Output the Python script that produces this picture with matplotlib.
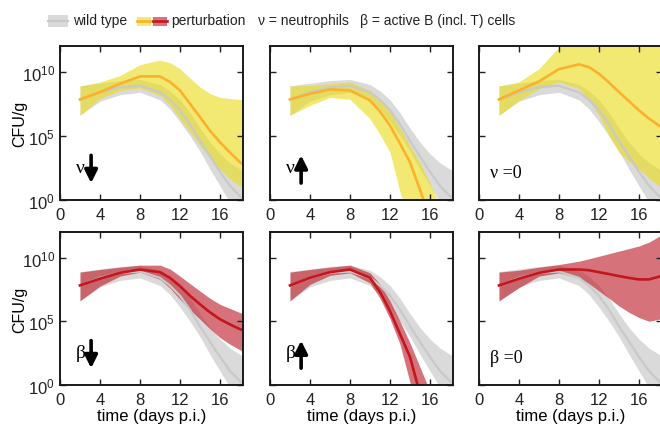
import numpy as np
import matplotlib
matplotlib.use("Agg")
from matplotlib import pyplot as plt
from matplotlib.patches import Rectangle
from matplotlib.lines import Line2D
from matplotlib.ticker import NullLocator

plt.rcParams['font.family'] = ['Liberation Sans', 'DejaVu Sans']

# days post infection, values are log10 CFU/g
days = [2, 4, 6, 8, 10, 11, 12, 13, 14, 15, 16, 17, 18, 19]

wt_med = [7.8, 8.4, 8.8, 8.9, 8.4, 7.8, 7.0, 5.9, 4.6, 3.4, 2.2, 1.1, 0.3, -0.4]
wt_hi = [8.9, 9.1, 9.3, 9.4, 9.0, 8.5, 7.8, 6.8, 5.6, 4.5, 3.6, 2.9, 2.4, 2.0]
wt_lo = [6.6, 7.7, 8.2, 8.4, 7.8, 7.1, 6.1, 5.0, 3.8, 2.4, 1.1, -0.2, -1.2, -2.0]

# neutrophils down
nu_down_med = [7.84, 8.4, 9.06, 9.63, 9.63, 9.2, 8.54, 7.5, 6.46, 5.4, 4.5, 3.7, 2.94, 2.4]
nu_down_hi = [8.88, 9.19, 9.7, 10.55, 10.9, 10.7, 10.23, 9.5, 8.8, 8.3, 8.0, 7.9, 7.84, 7.8]
nu_down_lo = [6.6, 7.9, 8.54, 8.73, 8.15, 7.4, 6.33, 5.3, 4.24, 3.3, 2.42, 1.6, 1.1, 0.7]

# neutrophils up
nu_up_med = [7.84, 8.28, 8.62, 8.54, 7.76, 6.9, 5.8, 4.4, 2.94, 0.8, -1.5, -3.0, -4.0, -5.0]
nu_up_hi = [8.88, 8.93, 9.06, 9.2, 8.54, 7.8, 6.85, 5.6, 4.24, 2.9, 1.3, -0.5, -2.0, -3.0]
nu_up_lo = [6.6, 7.37, 8.0, 7.84, 6.33, 5.1, 3.73, 0.6, -1.5, -3.0, -4.0, -5.0, -6.0, -7.0]

# no neutrophils
nu_zero_med = [7.84, 8.54, 9.24, 10.2, 10.57, 10.35, 9.84, 9.15, 8.41, 7.7, 6.98, 6.35, 5.8, 5.4]
nu_zero_hi = [8.88, 9.2, 10.23, 11.93, 13, 13, 13, 13, 13, 13, 13, 13, 13, 13]
nu_zero_lo = [6.6, 7.76, 8.67, 9.2, 8.67, 7.8, 6.6, 5.0, 3.7, 3.0, 2.4, 1.7, 1.1, 0.7]

# B cells down
b_down_med = [7.81, 8.34, 8.8, 9.06, 8.85, 8.4, 7.76, 7.0, 6.33, 5.7, 5.16, 4.75, 4.38, 4.1]
b_down_hi = [8.85, 9.06, 9.24, 9.4, 9.4, 9.1, 8.54, 7.95, 7.37, 6.8, 6.33, 6.0, 5.68, 5.4]
b_down_lo = [6.6, 7.76, 8.54, 8.85, 8.28, 7.6, 6.72, 5.9, 5.16, 4.4, 3.72, 3.2, 2.76, 2.4]

# B cells up
b_up_med = [7.81, 8.41, 8.85, 9.06, 8.41, 7.3, 5.8, 4.0, 2.2, -0.7, -3.0, -4.0, -5.0, -6.0]
b_up_hi = [8.85, 9.06, 9.24, 9.4, 8.8, 7.9, 6.6, 5.0, 3.3, 1.4, -0.5, -2.5, -4.0, -5.0]
b_up_lo = [6.6, 7.89, 8.6, 8.8, 8.0, 6.8, 5.2, 3.2, 0.2, -2.5, -4.0, -5.0, -6.0, -7.0]

# no B cells
b_zero_med = [7.81, 8.34, 8.8, 9.06, 9.06, 9.0, 8.85, 8.7, 8.54, 8.4, 8.28, 8.28, 8.5, 8.7]
b_zero_hi = [8.85, 9.0, 9.24, 9.45, 9.71, 9.9, 10.1, 10.3, 10.5, 10.7, 10.9, 11.2, 11.66, 12.0]
b_zero_lo = [6.6, 7.63, 8.54, 8.8, 8.41, 7.95, 7.37, 6.8, 6.2, 5.7, 5.29, 5.0, 5.16, 5.3]

panels = [
    (nu_down_med, nu_down_lo, nu_down_hi, 'yellow', '\u03bd', 'down'),
    (nu_up_med, nu_up_lo, nu_up_hi, 'yellow', '\u03bd', 'up'),
    (nu_zero_med, nu_zero_lo, nu_zero_hi, 'yellow', '\u03bd =0', None),
    (b_down_med, b_down_lo, b_down_hi, 'red', '\u03b2', 'down'),
    (b_up_med, b_up_lo, b_up_hi, 'red', '\u03b2', 'up'),
    (b_zero_med, b_zero_lo, b_zero_hi, 'red', '\u03b2 =0', None),
]

band_col = {'yellow': '#ebdc1b', 'red': '#be1e28'}
line_col = {'yellow': '#fbb12b', 'red': '#c3161e'}
gray_band = '#dadada'
gray_line = '#c9c9c9'
serif = ['Liberation Serif', 'DejaVu Serif']

fig = plt.figure(figsize=(6.6, 4.27), dpi=100)

lefts = [60, 270, 479]
W, H = 660.0, 427.0
rows = [(201, 154), (386, 153)]

t = np.array(days)
for i, (med, lo, hi, col, lab, arrow) in enumerate(panels):
    r, c = divmod(i, 3)
    bot, h = rows[r]
    ax = fig.add_axes([lefts[c] / W, 1 - bot / H, 183 / W, h / H])

    ax.fill_between(t, 10.0 ** np.array(wt_lo), 10.0 ** np.array(wt_hi),
                    color=gray_band, lw=0)
    ax.plot(t, 10.0 ** np.array(wt_med), color=gray_line, lw=1.6)
    ax.fill_between(t, 10.0 ** np.array(lo), 10.0 ** np.array(hi),
                    color=band_col[col], alpha=0.62, lw=0)
    ax.plot(t, 10.0 ** np.array(med), color=line_col[col], lw=1.9)

    ax.set_yscale('log')
    ax.set_xlim(0, 18.3)
    ax.set_ylim(1, 1e12)
    ax.set_xticks([0, 4, 8, 12, 16])
    ax.set_yticks([1, 1e5, 1e10])
    ax.yaxis.set_minor_locator(NullLocator())
    ax.tick_params(direction='in', top=True, right=True, length=4, width=1,
                   labelsize=12, colors='#222222')
    ax.tick_params(axis='x', pad=5)
    if c == 0:
        ax.set_yticklabels([r'$\mathregular{10^{0}}$', r'$\mathregular{10^{5}}$',
                            r'$\mathregular{10^{10}}$'])
        ax.set_ylabel('CFU/g', fontsize=11.5)
        ax.yaxis.set_label_coords(-0.18, 0.5)
    else:
        ax.set_yticklabels([])
    if r == 1:
        ax.set_xlabel('time (days p.i.)', fontsize=12, labelpad=1)
    for s in ax.spines.values():
        s.set_linewidth(1.4)
        s.set_color('#1a1a1a')

    if arrow is None:
        ax.text(0.06, 0.18, lab, transform=ax.transAxes, fontsize=13,
                family=serif, va='center')
    else:
        ax.text(0.085, 0.21, lab, transform=ax.transAxes, fontsize=14,
                family=serif, va='center')
        if arrow == 'down':
            a0, a1 = 0.29, 0.11
        else:
            a0, a1 = 0.11, 0.29
        ax.annotate('', xy=(0.17, a1), xytext=(0.17, a0), xycoords='axes fraction',
                    arrowprops=dict(arrowstyle='-|>', lw=2.6, color='k',
                                    mutation_scale=19, shrinkA=0, shrinkB=0))

# legend row at the top
def fx(x):
    return x / W

def fy(y):
    return 1 - y / H

fig.add_artist(Rectangle((fx(48), fy(28)), fx(20), 12 / H, transform=fig.transFigure,
                         color=gray_band, lw=0))
fig.add_artist(Line2D([fx(48), fx(68)], [fy(22), fy(22)], transform=fig.transFigure,
                      color=gray_line, lw=1.6))
fig.text(fx(73), fy(21), 'wild type', fontsize=10, va='center', color='#222222')

for x0, col in [(137, 'yellow'), (153, 'red')]:
    fig.add_artist(Rectangle((fx(x0), fy(27)), fx(14), 9 / H, transform=fig.transFigure,
                             color=band_col[col], alpha=0.62, lw=0))
    fig.add_artist(Line2D([fx(x0), fx(x0 + 14)], [fy(22), fy(22)],
                          transform=fig.transFigure, color=line_col[col], lw=1.9))
fig.text(fx(171), fy(21), 'perturbation', fontsize=10, va='center', color='#222222')
fig.text(fx(258), fy(21), '\u03bd = neutrophils', fontsize=10, va='center',
         color='#222222')
fig.text(fx(360), fy(21), '\u03b2 = active B (incl. T) cells', fontsize=10,
         va='center', color='#222222')

fig.savefig('out.png', dpi=100)
